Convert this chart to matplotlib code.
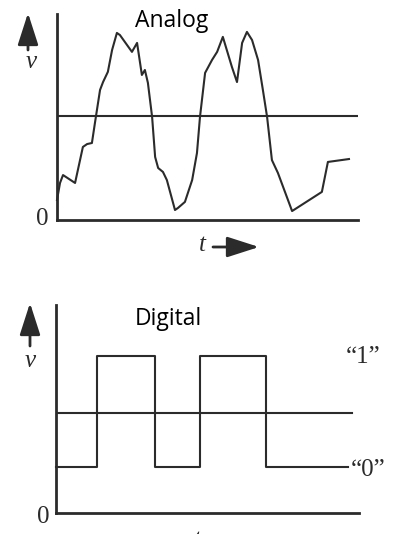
import matplotlib
matplotlib.use("Agg")
import matplotlib.pyplot as plt

# ---- data -------------------------------------------------------------
# Analog waveform samples (time, voltage)
analog_t = [0.00, 0.10, 0.20, 0.60, 0.86, 1.00, 1.16, 1.26, 1.43, 1.53, 1.69,
            1.83, 1.99, 2.09, 2.49, 2.66, 2.82, 2.92, 3.02, 3.16, 3.26, 3.36,
            3.52, 3.65, 3.92, 4.02, 4.25, 4.49, 4.65, 4.75, 4.92, 5.15, 5.32,
            5.51, 5.81, 5.98, 6.15, 6.31, 6.48, 6.68, 6.84, 6.98, 7.14, 7.34,
            7.81, 8.80, 9.00, 9.70]
analog_v = [0.96, 1.78, 2.16, 1.78, 3.51, 3.65, 3.70, 4.66, 6.25, 6.63, 7.12,
            8.17, 8.99, 8.89, 8.08, 8.51, 6.97, 7.21, 6.59, 4.95, 3.03, 2.50,
            2.31, 1.92, 0.48, 0.58, 0.87, 1.92, 3.22, 4.95, 7.07, 7.69, 8.08,
            8.80, 7.36, 6.63, 8.51, 9.04, 8.65, 7.69, 6.25, 4.95, 2.88, 2.26,
            0.43, 1.35, 2.79, 2.93]
analog_threshold = 5.0
analog_tmax, analog_vmax = 10.0, 9.9
analog_thr_end = 9.97

# Digital waveform: bit levels between switching instants
digital_edges = [0.0, 1.35, 3.27, 4.75, 6.93, 9.64]
digital_bits = [0, 1, 0, 1, 0]
level_low, level_high = 2.3, 7.9
digital_threshold = 5.0
digital_tmax, digital_vmax = 10.0, 10.45
digital_thr_end = 9.77

INK = "#2b2b2b"
W, H = 402, 534

fig = plt.figure(figsize=(W / 100, H / 100), dpi=100)
fig.patch.set_facecolor("white")


def fx(x):
    return x / W


def fy(y):
    return 1 - y / H


def make_axes(left, right, top, bottom):
    ax = fig.add_axes([fx(left), fy(bottom), (right - left) / W, (bottom - top) / H])
    for s in ("top", "right"):
        ax.spines[s].set_visible(False)
    for s in ("left", "bottom"):
        ax.spines[s].set_linewidth(2.0)
        ax.spines[s].set_color(INK)
        ax.spines[s].set_capstyle("projecting")
    ax.set_xticks([])
    ax.set_yticks([])
    ax.patch.set_alpha(0)
    return ax


def arrow(x0, y0, x1, y1):
    fig.add_artist(matplotlib.patches.FancyArrowPatch(
        (fx(x0), fy(y0)), (fx(x1), fy(y1)), transform=fig.transFigure,
        arrowstyle="-|>,head_length=1.4,head_width=0.45", mutation_scale=14,
        lw=2.0, color=INK, shrinkA=0, shrinkB=0))


sans = dict(family="Open Sans", fontsize=16.5, color="black")
serif = dict(family="Liberation Serif", fontsize=18, color=INK)
serif_i = dict(family="Liberation Serif", fontsize=18, style="italic", color=INK)

# ---- analog panel -----------------------------------------------------
ax1 = make_axes(57, 358, 14, 220)
ax1.set_xlim(0, analog_tmax)
ax1.set_ylim(0, analog_vmax)
ax1.plot(analog_t, analog_v, color=INK, lw=1.5, solid_joinstyle="round",
         clip_on=False)
ax1.plot([0, analog_thr_end], [analog_threshold] * 2, color=INK, lw=1.5)

fig.text(fx(135), fy(27), "Analog", ha="left", va="baseline", **sans)
arrow(28, 50, 28, 13)
fig.text(fx(31), fy(68), "v", ha="center", va="baseline", **serif_i)
fig.text(fx(42), fy(225), "0", ha="center", va="baseline", **serif)
fig.text(fx(202), fy(251), "t", ha="center", va="baseline", **serif_i)
arrow(213, 247, 259, 247)

# ---- digital panel ----------------------------------------------------
ax2 = make_axes(56, 359, 305, 513)
ax2.set_xlim(0, digital_tmax)
ax2.set_ylim(0, digital_vmax)
levels = [level_high if b else level_low for b in digital_bits]
ax2.step(digital_edges, levels + [levels[-1]], where="post", color=INK,
         lw=1.5, clip_on=False)
ax2.plot([0, digital_thr_end], [digital_threshold] * 2, color=INK, lw=1.5)

fig.text(fx(135), fy(325), "Digital", ha="left", va="baseline", **sans)
arrow(30, 346, 30, 303)
fig.text(fx(30), fy(367), "v", ha="center", va="baseline", **serif_i)
fig.text(fx(43), fy(523), "0", ha="center", va="baseline", **serif)
fig.text(fx(363), fy(363), "\u201c1\u201d", ha="center", va="baseline", **serif)
fig.text(fx(368), fy(476), "\u201c0\u201d", ha="center", va="baseline", **serif)
fig.text(fx(197), fy(546), "t", ha="center", va="baseline", **serif_i)

fig.savefig("out.png", dpi=100, facecolor="white")
